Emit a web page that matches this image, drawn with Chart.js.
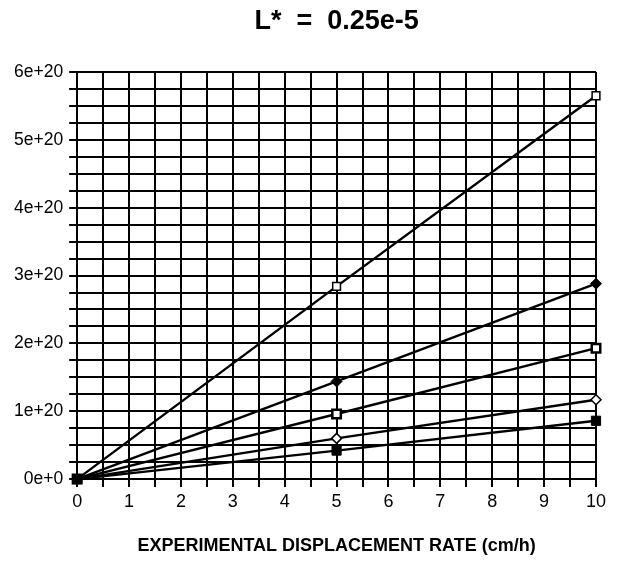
<!DOCTYPE html>
<html>
<head>
<meta charset="utf-8">
<script src="https://cdn.jsdelivr.net/npm/chart.js@4"></script>
<style>
  html, body { margin: 0; padding: 0; background: #fff; }
  #wrap { width: 617px; height: 561px; }
</style>
</head>
<body>
<div id="wrap"><canvas id="rateChart"></canvas></div>
<script>
// displacement rate (cm/h)
var rates = [0, 5, 10];
// one series per curve
var seriesA = [0, 2.84e20, 5.65e20];
var seriesB = [0, 1.44e20, 2.88e20];
var seriesC = [0, 0.96e20, 1.93e20];
var seriesD = [0, 0.60e20, 1.17e20];
var seriesE = [0, 0.42e20, 0.86e20];
var yTickLabels = ['0e+0', '1e+20', '2e+20', '3e+20', '4e+20', '5e+20', '6e+20'];
var xTickLabels = ['0', '1', '2', '3', '4', '5', '6', '7', '8', '9', '10'];

function pts(vals) {
    return rates.map(function (r, i) { return { x: r, y: vals[i] }; });
}

function ds(vals, style, fill, radius, bw) {
    return {
        data: pts(vals),
        borderColor: '#000',
        borderWidth: 2.4,
        pointStyle: style,
        pointRadius: radius,
        pointBackgroundColor: fill,
        pointBorderColor: '#000',
        pointBorderWidth: bw,
        tension: 0,
        clip: false
    };
}

var ctx = document.getElementById('rateChart');
new Chart(ctx, {
    type: 'line',
    data: {
        // filled square first so it sits on top at the origin
        datasets: [
            ds(seriesE, 'rect', '#000', 6.5, 1),
            ds(seriesA, 'rect', '#fff', 5.5, 1.5),
            ds(seriesB, 'rectRot', '#000', 5.5, 1),
            ds(seriesC, 'rect', '#fff', 6, 2.5),
            ds(seriesD, 'rectRot', '#fff', 5, 1.5)
        ]
    },
    options: {
        responsive: true,
        maintainAspectRatio: false,
        animation: false,
        layout: { padding: { top: 5, left: 8, right: 21, bottom: 3.7 } },
        plugins: {
            legend: { display: false },
            tooltip: { enabled: false },
            title: {
                display: true,
                fullSize: false,
                text: 'L*  =  0.25e-5',
                color: '#000',
                font: { family: 'Liberation Sans', size: 27, weight: 'bold' },
                padding: { top: 0.8, bottom: 33.8 }
            }
        },
        scales: {
            x: {
                type: 'linear',
                min: 0,
                max: 10,
                grid: { color: '#000', lineWidth: 2, tickLength: 8 },
                border: { color: '#000', width: 2 },
                ticks: {
                    stepSize: 0.5,
                    autoSkip: false,
                    maxRotation: 0,
                    padding: 4,
                    color: '#000',
                    font: { family: 'Liberation Sans', size: 18 },
                    callback: function (v) {
                        return Number.isInteger(v) ? xTickLabels[v] : '';
                    }
                },
                title: {
                    display: true,
                    text: 'EXPERIMENTAL DISPLACEMENT RATE (cm/h)',
                    color: '#000',
                    font: { family: 'Liberation Sans', size: 18, weight: 'bold' },
                    padding: { top: 19, bottom: 0 }
                }
            },
            y: {
                min: 0,
                max: 6e20,
                grid: { color: '#000', lineWidth: 2, tickLength: 8 },
                border: { color: '#000', width: 2 },
                ticks: {
                    stepSize: 0.25e20,
                    autoSkip: false,
                    padding: 6,
                    color: '#000',
                    font: { family: 'Liberation Sans', size: 17.5 },
                    callback: function (v) {
                        var u = v / 1e20;
                        return Math.abs(u - Math.round(u)) < 1e-6 ? yTickLabels[Math.round(u)] : '';
                    }
                }
            }
        }
    }
});
</script>
</body>
</html>
